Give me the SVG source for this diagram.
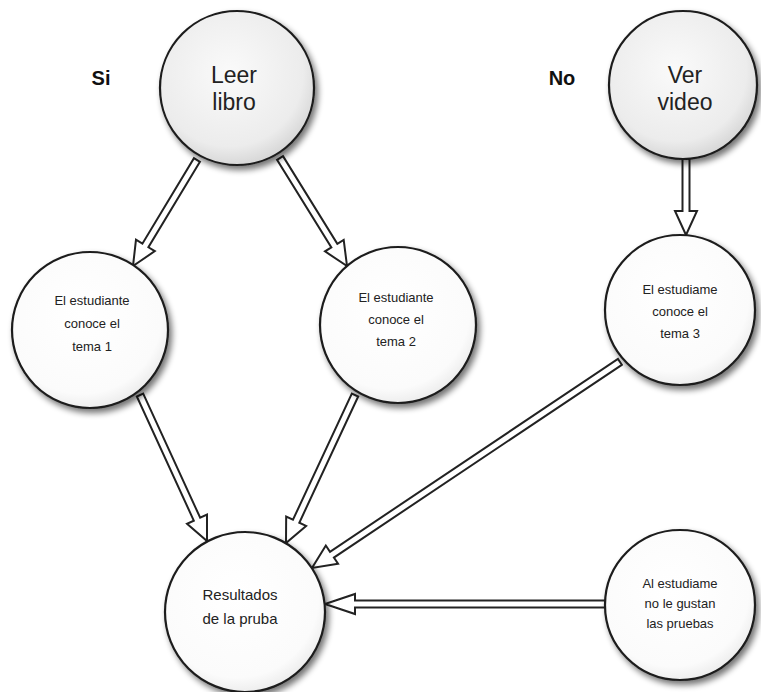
<svg xmlns="http://www.w3.org/2000/svg" width="761" height="692" viewBox="0 0 761 692">
<style>
.node circle{stroke:#1c1c1c;stroke-width:2.2;filter:url(#sh)}
.big{font-family:"Liberation Sans",Arial,sans-serif;font-size:23px;fill:#222;text-anchor:middle}
.sm{font-family:"Liberation Sans",Arial,sans-serif;font-size:13px;fill:#222;text-anchor:middle}
.lbl{font-family:"Liberation Sans",Arial,sans-serif;font-size:20px;font-weight:bold;fill:#111;text-anchor:middle}
.arr{fill:#fff;stroke:#222;stroke-width:2;stroke-linejoin:miter}
</style>
<defs>
<radialGradient id="g1" cx="45%" cy="40%" r="60%">
<stop offset="0" stop-color="#fafafa"/><stop offset="0.8" stop-color="#ececec"/><stop offset="1" stop-color="#d8d8d8"/>
</radialGradient>
<radialGradient id="g2" cx="45%" cy="40%" r="60%">
<stop offset="0" stop-color="#ffffff"/><stop offset="0.85" stop-color="#fbfbfb"/><stop offset="1" stop-color="#eeeeee"/>
</radialGradient>
<filter id="sh" x="-20%" y="-20%" width="150%" height="150%">
<feGaussianBlur in="SourceAlpha" stdDeviation="3"/>
<feOffset dx="3" dy="4" result="b"/>
<feComponentTransfer><feFuncA type="linear" slope="0.55"/></feComponentTransfer>
<feMerge><feMergeNode/><feMergeNode in="SourceGraphic"/></feMerge>
</filter>
</defs>
<rect width="761" height="692" fill="#fff"/>
<text class="lbl" x="101" y="85">Si</text>
<text class="lbl" x="562" y="85">No</text>
<g id="connectors">
<path class="arr" transform="translate(133,266) rotate(121.1)" d="M-123.8,-3.5 H-24 V-11 L0,0 L-24,11 V3.5 H-123.8 Z"/>
<path class="arr" transform="translate(347,266) rotate(58.2)" d="M-127.1,-3.5 H-24 V-11 L0,0 L-24,11 V3.5 H-127.1 Z"/>
<path class="arr" transform="translate(686,235) rotate(90)" d="M-76,-3.5 H-24 V-11 L0,0 L-24,11 V3.5 H-76 Z"/>
<path class="arr" transform="translate(207,541) rotate(65.35)" d="M-160.6,-3.5 H-24 V-11 L0,0 L-24,11 V3.5 H-160.6 Z"/>
<path class="arr" transform="translate(286,543) rotate(115)" d="M-163.3,-3.5 H-24 V-11 L0,0 L-24,11 V3.5 H-163.3 Z"/>
<path class="arr" transform="translate(312,568) rotate(146.2)" d="M-370.5,-3.5 H-24 V-11 L0,0 L-24,11 V3.5 H-370.5 Z"/>
<path class="arr" transform="translate(325,604) rotate(180)" d="M-280,-3.5 H-30 V-10 L0,0 L-30,10 V3.5 H-280 Z"/>
</g>
<g id="leer-libro" class="node">
<circle cx="237" cy="88" r="77" fill="url(#g1)"/>
<text class="big" x="234" y="83">Leer</text>
<text class="big" x="234" y="110">libro</text>
</g>
<g id="ver-video" class="node">
<circle cx="683" cy="85" r="74" fill="url(#g1)"/>
<text class="big" x="685" y="83">Ver</text>
<text class="big" x="685" y="110">video</text>
</g>
<g id="tema1" class="node">
<circle cx="90" cy="330" r="78" fill="url(#g2)"/>
<text class="sm" x="92" y="305">El estudiante</text>
<text class="sm" x="92" y="328">conoce el</text>
<text class="sm" x="92" y="351">tema 1</text>
</g>
<g id="tema2" class="node">
<circle cx="398" cy="325" r="78" fill="url(#g2)"/>
<text class="sm" x="396" y="302">El estudiante</text>
<text class="sm" x="396" y="324">conoce el</text>
<text class="sm" x="396" y="346">tema 2</text>
</g>
<g id="tema3" class="node">
<circle cx="680" cy="310" r="75" fill="url(#g2)"/>
<text class="sm" x="680" y="294">El estudiame</text>
<text class="sm" x="680" y="316">conoce el</text>
<text class="sm" x="680" y="338">tema 3</text>
</g>
<g id="resultados" class="node">
<circle cx="245" cy="612" r="80" fill="url(#g2)"/>
<text class="sm" x="240" y="600" style="font-size:15px">Resultados</text>
<text class="sm" x="240" y="624" style="font-size:15px">de la pruba</text>
</g>
<g id="no-gustan" class="node">
<circle cx="680" cy="605" r="75" fill="url(#g2)"/>
<text class="sm" x="680" y="588">Al estudiame</text>
<text class="sm" x="680" y="608">no le gustan</text>
<text class="sm" x="680" y="628">las pruebas</text>
</g>
</svg>
